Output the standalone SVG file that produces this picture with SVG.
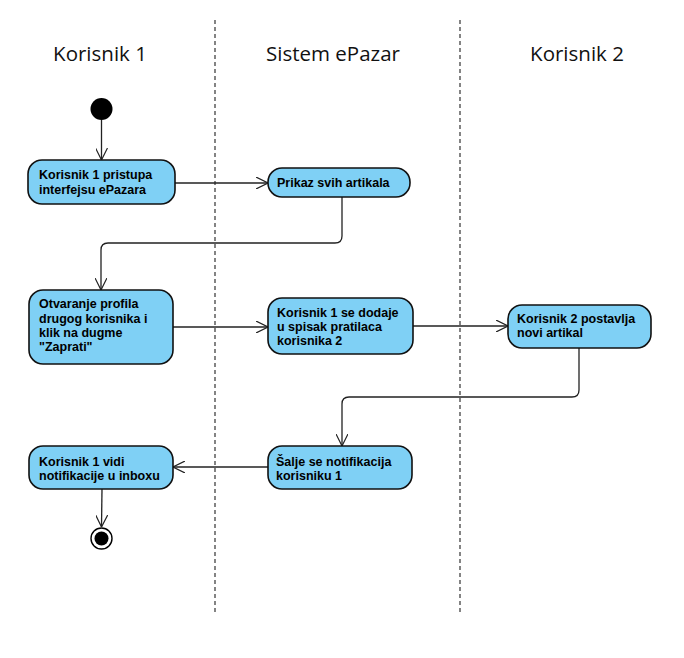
<svg xmlns="http://www.w3.org/2000/svg" width="684" height="658" viewBox="0 0 684 658">
<defs>
<style>
.lane{stroke:#333;stroke-width:1.2;stroke-dasharray:4 3;fill:none}
.title{font-family:"Open Sans","Noto Sans",sans-serif;font-size:20.5px;fill:#111;text-anchor:middle}
.act{fill:#7fd0f5;stroke:#111;stroke-width:1.6}
.lbl{font-family:"Liberation Sans",Arial,sans-serif;font-weight:bold;font-size:12.5px;fill:#000}
.edge{stroke:#222;stroke-width:1.3;fill:none}
</style>
<marker id="arr" viewBox="0 0 12 12" refX="12" refY="6" markerWidth="12" markerHeight="12" markerUnits="userSpaceOnUse" orient="auto">
<path d="M0,0 L12,6 L0,12" fill="none" stroke="#222" stroke-width="1.2"/>
</marker>
</defs>
<rect width="684" height="658" fill="#fff"/>
<g id="lanes">
<line class="lane" x1="215" y1="20" x2="215" y2="614"/>
<line class="lane" x1="460" y1="20" x2="460" y2="614"/>
<text class="title" x="100" y="61">Korisnik 1</text>
<text class="title" x="333" y="61">Sistem ePazar</text>
<text class="title" x="577" y="61">Korisnik 2</text>
</g>
<g id="connectors">
<path class="edge" stroke="#555" d="M101.5,120 V160" marker-end="url(#arr)"/>
<path class="edge" d="M175,183 H268" marker-end="url(#arr)"/>
<path class="edge" d="M342,197 V236 Q342,243 335,243 H108 Q101,243 101,250 V290" marker-end="url(#arr)"/>
<path class="edge" d="M173,327 H268" marker-end="url(#arr)"/>
<path class="edge" d="M413,326 H508" marker-end="url(#arr)"/>
<path class="edge" d="M579,348 V390 Q579,397 572,397 H349 Q342,397 342,404 V446" marker-end="url(#arr)"/>
<path class="edge" d="M268,467 H173" marker-end="url(#arr)"/>
<path class="edge" d="M102,489 L101.5,527" marker-end="url(#arr)"/>
</g>
<g id="start">
<circle cx="101.5" cy="109" r="11" fill="#000"/>
</g>
<g id="n1">
<rect class="act" x="28" y="160" width="147" height="44" rx="14"/>
<text class="lbl" x="39" y="179">Korisnik 1 pristupa</text>
<text class="lbl" x="39" y="194">interfejsu ePazara</text>
</g>
<g id="n2">
<rect class="act" x="268" y="168" width="142" height="29" rx="14"/>
<text class="lbl" x="277" y="187">Prikaz svih artikala</text>
</g>
<g id="n3">
<rect class="act" x="29" y="290" width="144" height="74" rx="14"/>
<text class="lbl" x="39" y="308">Otvaranje profila</text>
<text class="lbl" x="39" y="323">drugog korisnika i</text>
<text class="lbl" x="39" y="337">klik na dugme</text>
<text class="lbl" x="39" y="351">"Zaprati"</text>
</g>
<g id="n4">
<rect class="act" x="268" y="298" width="145" height="56" rx="14"/>
<text class="lbl" x="277" y="317">Korisnik 1 se dodaje</text>
<text class="lbl" x="277" y="331">u spisak pratilaca</text>
<text class="lbl" x="277" y="345">korisnika 2</text>
</g>
<g id="n5">
<rect class="act" x="508" y="305" width="143" height="43" rx="14"/>
<text class="lbl" x="517" y="323">Korisnik 2 postavlja</text>
<text class="lbl" x="517" y="337">novi artikal</text>
</g>
<g id="n6">
<rect class="act" x="268" y="446" width="144" height="43" rx="14"/>
<text class="lbl" x="276" y="466">Šalje se notifikacija</text>
<text class="lbl" x="276" y="480">korisniku 1</text>
</g>
<g id="n7">
<rect class="act" x="29" y="446" width="144" height="43" rx="14"/>
<text class="lbl" x="39" y="466">Korisnik 1 vidi</text>
<text class="lbl" x="39" y="480">notifikacije u inboxu</text>
</g>
<g id="end">
<circle cx="101.5" cy="538.5" r="10.5" fill="#fff" stroke="#000" stroke-width="1.4"/>
<circle cx="101.5" cy="538.5" r="7" fill="#000"/>
</g>
</svg>
